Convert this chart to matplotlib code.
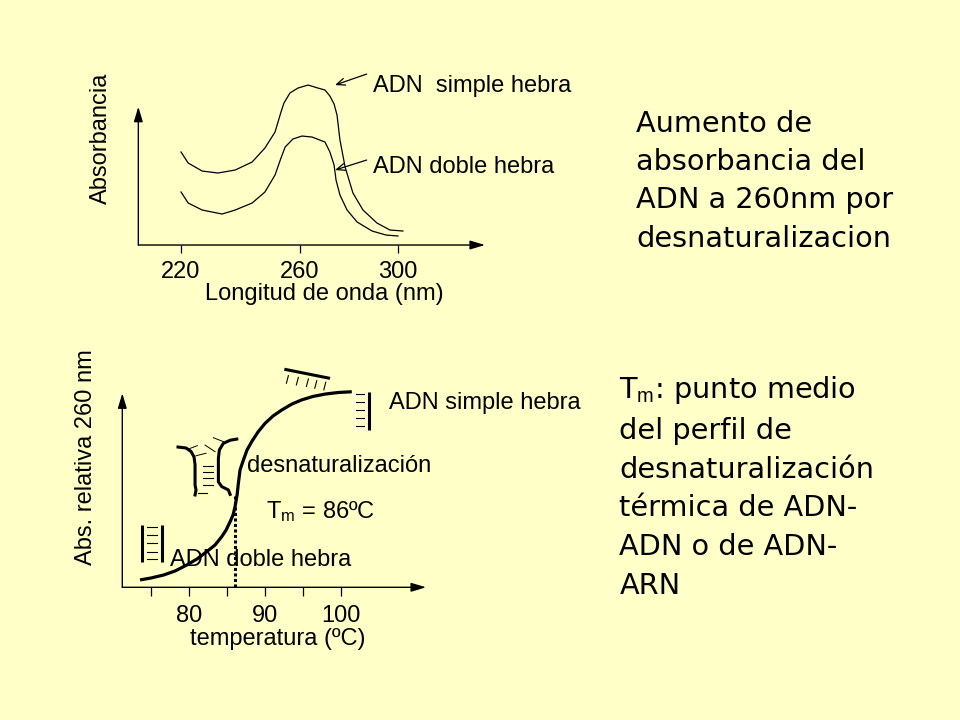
import numpy as np
import matplotlib
matplotlib.use("Agg")
import matplotlib.pyplot as plt


# espectro de absorcion (esquema)
longitud_simple = [220.0, 222.4, 227.1, 232.4, 238.2, 243.9, 248.2, 251.6, 253.6, 254.6,
                   256.6, 259.3, 263.3, 267.3, 270.2, 272.2, 273.9, 275.1, 276.3, 278.4,
                   281.6, 285.7, 291.4, 296.7, 302.0]
abs_simple = [0.93, 0.82, 0.74, 0.72, 0.75, 0.83, 0.97, 1.13, 1.33, 1.42,
              1.52, 1.57, 1.60, 1.57, 1.55, 1.49, 1.41, 1.30, 1.05, 0.78,
              0.52, 0.35, 0.22, 0.15, 0.14]
longitud_doble = [220.0, 222.4, 227.1, 233.8, 238.2, 243.9, 248.2, 251.6, 253.6, 255.0,
                  257.6, 260.8, 264.9, 270.2, 272.2, 273.9, 274.7, 276.3, 279.2, 283.3,
                  289.4, 295.1, 300.0]
abs_doble = [0.53, 0.42, 0.35, 0.31, 0.35, 0.42, 0.53, 0.70, 0.87, 0.98,
             1.06, 1.09, 1.08, 1.03, 0.93, 0.80, 0.65, 0.50, 0.35, 0.23,
             0.14, 0.10, 0.09]
ticks_longitud = [220, 260, 300]

# curva de desnaturalizacion
temperatura = [73.51, 74.96, 76.58, 78.12, 79.66, 81.01, 82.29, 83.38, 84.26, 84.83,
               85.36, 85.75, 86.01, 86.28, 86.45, 86.67, 87.11, 87.59, 88.21, 89.04,
               89.96, 91.01, 92.16, 93.51, 94.79, 96.28, 97.86, 99.57, 101.37]
abs_relativa = [0.038, 0.048, 0.063, 0.084, 0.115, 0.146, 0.184, 0.218, 0.261, 0.295,
                0.338, 0.373, 0.415, 0.476, 0.536, 0.605, 0.656, 0.708, 0.751, 0.801,
                0.845, 0.883, 0.914, 0.945, 0.966, 0.984, 0.996, 1.004, 1.008]
ticks_temp = [75, 80, 85, 90, 95, 100]
etiquetas_temp = ["", "80", "", "90", "", "100"]
tm = 86
abs_tm = 0.47

# dibujos de las hebras
doble_x = [73.74, 76.37]
doble_y = [0.132, 0.321]
doble_peldanos_x = [74.39, 75.71]
doble_peldanos_y = [0.309, 0.270, 0.227, 0.184, 0.144]

simple_x = 103.68
simple_y = [0.811, 1.008]
simple_peldanos_x = [101.93, 103.03]
simple_peldanos_y = [0.995, 0.957, 0.914, 0.871, 0.831]
diagonal_x = [92.5, 98.51]
diagonal_y = [1.124, 1.077]
rayas_x = [93.03, 94.34, 95.66, 96.76, 97.95]
rayas_y = [1.091, 1.082, 1.074, 1.065, 1.057]

abierta_izq_x = [78.51, 79.57, 80.22, 80.62, 80.75, 80.75, 80.88, 80.75]
abierta_izq_y = [0.723, 0.718, 0.700, 0.672, 0.631, 0.527, 0.502, 0.476]
abierta_der_x = [86.24, 85.36, 84.47, 83.95, 83.82, 83.82, 84.26, 85.13, 85.36]
abierta_der_y = [0.764, 0.758, 0.742, 0.708, 0.665, 0.544, 0.519, 0.502, 0.479]
abierta_peldanos_x = [81.80, 83.12]
abierta_peldanos_y = [0.627, 0.596, 0.562, 0.527]
abierta_ultimo_x = [81.14, 82.33]
abierta_ultimo_y = 0.485
ramas = [([79.96, 81.05], [0.714, 0.730]),
         ([80.88, 82.20], [0.678, 0.691]),
         ([82.07, 83.38], [0.733, 0.699]),
         ([83.16, 84.47], [0.771, 0.751])]

fondo = "#FFFFC8"

plt.rcParams["font.family"] = ["Liberation Sans", "DejaVu Sans"]
plt.rcParams["mathtext.fontset"] = "custom"
plt.rcParams["mathtext.rm"] = "Liberation Sans"
plt.rcParams["mathtext.it"] = "Liberation Sans:italic"
plt.rcParams["mathtext.bf"] = "Liberation Sans:bold"

fig = plt.figure(figsize=(9.6, 7.2), dpi=100, facecolor=fondo)

flecha_eje = dict(arrowstyle="-|>,head_length=1.0,head_width=0.3", lw=1, color="black",
                  mutation_scale=9, shrinkA=0, shrinkB=0)
flecha_texto = dict(arrowstyle="->,head_length=0.6,head_width=0.25", lw=0.9, color="black",
                    mutation_scale=10, shrinkA=0, shrinkB=0)


def adelante(x):
    x = np.asarray(x, dtype=float)
    return np.where(x < 260, (x - 260) * 119 / 40, (x - 260) * 98 / 40)


def atras(y):
    y = np.asarray(y, dtype=float)
    return np.where(y < 0, 260 + y * 40 / 119, 260 + y * 40 / 98)


# ---- grafico de arriba: absorbancia vs longitud de onda
ax1 = fig.add_axes([0.1441, 0.6597, 0.3611, 0.2569])
ax1.set_facecolor(fondo)
ax1.set_xscale("function", functions=(adelante, atras))
ax1.plot(longitud_simple, abs_simple, color="black", lw=0.9)
ax1.plot(longitud_doble, abs_doble, color="black", lw=0.9)
ax1.set_xlim(205.65, 335.5)
ax1.set_ylim(0, 1.85)
for s in ax1.spines.values():
    s.set_visible(False)
ax1.annotate("", xy=(1, 0), xytext=(0, 0), xycoords="axes fraction", arrowprops=flecha_eje)
ax1.annotate("", xy=(0, 0.7476), xytext=(0, 0), xycoords="axes fraction", arrowprops=flecha_eje)
ax1.set_xticks(ticks_longitud)
ax1.set_xticklabels([str(t) for t in ticks_longitud])
ax1.minorticks_off()
ax1.set_yticks([])
ax1.tick_params(axis="x", direction="out", length=5.8, width=0.9, pad=6.0, labelsize=17)
ax1.set_xlabel("Longitud de onda (nm)", fontsize=17, va="baseline")
ax1.xaxis.set_label_coords(0.5356, -0.2990)
ax1.set_ylabel("Absorbancia", fontsize=17, ha="center", va="center")
ax1.yaxis.set_label_coords(-0.1076, 0.578)
ax1.text(289.8, 1.527, "ADN  simple hebra", fontsize=17, va="baseline")
ax1.text(289.8, 0.717, "ADN doble hebra", fontsize=17, va="baseline")
ax1.annotate("", xy=(274.3, 1.60), xytext=(287.2, 1.71), arrowprops=flecha_texto)
ax1.annotate("", xy=(274.3, 0.75), xytext=(287.2, 0.85), arrowprops=flecha_texto)

# ---- grafico de abajo: curva de fusion
ax2 = fig.add_axes([0.1274, 0.1843, 0.3164, 0.3157])
ax2.set_facecolor(fondo)
ax2.plot(temperatura, abs_relativa, color="black", lw=2.3, solid_joinstyle="round",
         solid_capstyle="butt")
ax2.plot([tm, tm], [0, abs_tm], color="black", lw=2.2, linestyle=(0, (1, 0.8)))
ax2.set_xlim(71.18, 111.14)
ax2.set_ylim(0, 1.1716)
for s in ax2.spines.values():
    s.set_visible(False)
ax2.annotate("", xy=(1, 0), xytext=(0, 0), xycoords="axes fraction", arrowprops=flecha_eje)
ax2.annotate("", xy=(0, 0.8535), xytext=(0, 0), xycoords="axes fraction", arrowprops=flecha_eje)
ax2.set_xticks(ticks_temp)
ax2.set_xticklabels(etiquetas_temp)
ax2.set_yticks([])
ax2.tick_params(axis="x", direction="out", length=6.5, width=0.9, pad=6.6, labelsize=17)
ax2.set_xlabel("temperatura (ºC)", fontsize=17, va="baseline")
ax2.xaxis.set_label_coords(0.5117, -0.2520)
ax2.set_ylabel("Abs. relativa 260 nm", fontsize=17, ha="center", va="center")
ax2.yaxis.set_label_coords(-0.1195, 0.571)

# hebras dibujadas
for x in doble_x:
    ax2.plot([x, x], doble_y, color="black", lw=2.2, solid_capstyle="butt")
for y in doble_peldanos_y:
    ax2.plot(doble_peldanos_x, [y, y], color="black", lw=0.8)

ax2.plot([simple_x, simple_x], simple_y, color="black", lw=2.2, solid_capstyle="butt")
for y in simple_peldanos_y:
    ax2.plot(simple_peldanos_x, [y, y], color="black", lw=0.8)
ax2.plot(diagonal_x, diagonal_y, color="black", lw=2.2, solid_capstyle="butt")
for x, y in zip(rayas_x, rayas_y):
    ax2.plot([x, x - 0.26], [y, y - 0.039], color="black", lw=0.8)

ax2.plot(abierta_izq_x, abierta_izq_y, color="black", lw=2.2, solid_joinstyle="round")
ax2.plot(abierta_der_x, abierta_der_y, color="black", lw=2.2, solid_joinstyle="round")
for y in abierta_peldanos_y:
    ax2.plot(abierta_peldanos_x, [y, y], color="black", lw=0.8)
ax2.plot(abierta_ultimo_x, [abierta_ultimo_y, abierta_ultimo_y], color="black", lw=0.8)
for rx, ry in ramas:
    ax2.plot(rx, ry, color="black", lw=0.7)

ax2.text(106.3, 0.919, "ADN simple hebra", fontsize=17, va="baseline")
ax2.text(87.55, 0.596, "desnaturalización", fontsize=17, va="baseline")
ax2.text(90.1, 0.356, r"T$_{\mathrm{m}}$ = 86ºC", fontsize=17, va="baseline")
ax2.text(77.46, 0.111, "ADN doble hebra", fontsize=17, va="baseline")

# ---- textos de la derecha (va="baseline" se toma en la ultima linea)
fig.text(0.6625, 0.6574,
         "Aumento de\nabsorbancia del\nADN a 260nm por\ndesnaturalizacion",
         fontsize=20.7, family="DejaVu Sans", va="baseline", linespacing=1.47)
fig.text(0.6451, 0.175,
         "T$_{\\mathrm{m}}$: punto medio\ndel perfil de\ndesnaturalización\n"
         "térmica de ADN-\nADN o de ADN-\nARN",
         fontsize=20.7, family="DejaVu Sans", va="baseline", linespacing=1.49)

fig.savefig("out.png", dpi=100, facecolor=fondo)
